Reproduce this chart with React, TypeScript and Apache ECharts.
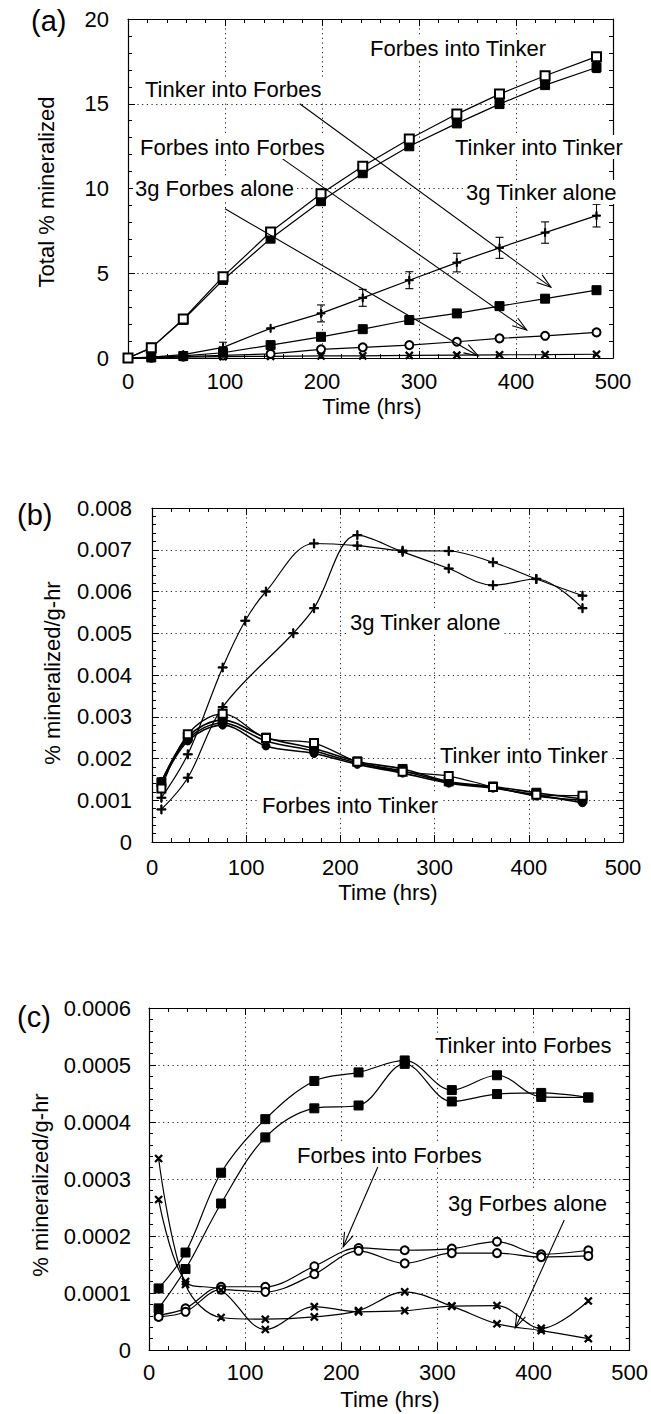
import React, { useEffect, useRef } from 'react';
import * as echarts from 'echarts';

const FONT = '"Liberation Sans", Arial, Helvetica, sans-serif';

// ---------- Panel (a): total % mineralized ----------
const timeA = [0, 24, 57, 98, 147, 199, 242, 290, 339, 383, 430, 483];
const forbesIntoTinkerA = [0, 0.6, 2.3, 4.8, 7.43, 9.69, 11.31, 12.92, 14.39, 15.57, 16.65, 17.78];
const tinkerIntoTinkerA = [0, 0.6, 2.25, 4.6, 7.04, 9.25, 10.9, 12.49, 13.84, 14.98, 16.1, 17.14];
const tinkerIntoTinkerErrA = [0, 0, 0, 0, 0, 0, 0, 0, 0, 0, 0, 0.3];
const tinkerAloneA = [0, 0.05, 0.2, 0.63, 1.75, 2.63, 3.55, 4.59, 5.63, 6.5, 7.4, 8.4];
const tinkerAloneErrA = [0, 0, 0, 0.3, 0, 0.5, 0.5, 0.5, 0.55, 0.62, 0.63, 0.67];
const tinkerIntoForbesA = [0, 0.03, 0.12, 0.31, 0.76, 1.25, 1.7, 2.24, 2.63, 3.06, 3.5, 4.0];
const forbesIntoForbesA = [0, 0.02, 0.08, 0.15, 0.24, 0.51, 0.63, 0.76, 0.96, 1.16, 1.31, 1.51];
const forbesAloneA = [0, 0.02, 0.05, 0.08, 0.1, 0.12, 0.13, 0.15, 0.17, 0.19, 0.2, 0.22];

// ---------- Panel (b): % mineralized / g-hr (Tinker soil) ----------
const timeB = [10, 38, 75, 121, 172, 218, 266, 315, 362, 408, 457];
const timeB1 = [10, 38, 75, 99, 121, 172, 218, 266, 315, 362, 408, 457];
const tinkerAloneB1 = [0.00106, 0.0021, 0.00418, 0.0053, 0.006, 0.00715, 0.0071, 0.00698, 0.00697, 0.0067, 0.0063, 0.0059];
const timeB2 = [10, 38, 75, 150, 172, 218, 266, 315, 362, 408, 457];
const tinkerAloneB2 = [0.00078, 0.00154, 0.00323, 0.005, 0.0056, 0.00735, 0.00695, 0.00655, 0.00615, 0.0063, 0.0056];
const forbesIntoTinkerB1 = [0.00128, 0.00258, 0.00307, 0.00249, 0.00237, 0.00192, 0.00168, 0.00158, 0.00132, 0.00113, 0.00111];
const forbesIntoTinkerB2 = [0.00143, 0.00252, 0.00292, 0.0025, 0.00224, 0.00193, 0.00175, 0.00145, 0.00133, 0.00118, 0.00103];
const tinkerIntoTinkerB1 = [0.00141, 0.00242, 0.0028, 0.0023, 0.00212, 0.00186, 0.00165, 0.00141, 0.00129, 0.00113, 0.00094];
const tinkerIntoTinkerB2 = [0.00145, 0.00247, 0.00285, 0.00242, 0.00218, 0.00189, 0.0017, 0.00143, 0.00131, 0.0011, 0.001];

// ---------- Panel (c): % mineralized / g-hr (Forbes soil) ----------
const timeC = [10, 38, 75, 121, 172, 218, 266, 315, 362, 408, 457];
const tinkerIntoForbesC1 = [0.000108, 0.000171, 0.000311, 0.000405, 0.000472, 0.000487, 0.000508, 0.000456, 0.000482, 0.000444, 0.000443];
const tinkerIntoForbesC2 = [0.000073, 0.000142, 0.000257, 0.000373, 0.000424, 0.000429, 0.000502, 0.000436, 0.000449, 0.000451, 0.000443];
const forbesIntoForbesC1 = [0.000061, 0.000073, 0.000111, 0.000111, 0.000147, 0.000179, 0.000175, 0.000178, 0.00019, 0.000168, 0.000175];
const forbesIntoForbesC2 = [0.000058, 0.000067, 0.000106, 0.000102, 0.000133, 0.000174, 0.000152, 0.00017, 0.00017, 0.000163, 0.000165];
const forbesAloneC1 = [0.000336, 0.000115, 0.000057, 0.000054, 0.000058, 0.000069, 0.000102, 0.000077, 0.000046, 0.000034, 0.00002];
const forbesAloneC2 = [0.000264, 0.00012, 0.000105, 0.000036, 0.000076, 0.000067, 0.000069, 0.000077, 0.000078, 0.000038, 0.000086];

// annotation arrows [x1, y1, x2(tip), y2(tip)] in data units
const arrowsA = [
  [177, 15.0, 436, 4.18],
  [159, 11.76, 411, 1.65],
  [100, 8.8, 361, 0.12],
];
const arrowsC = [
  [238, 0.000321, 202, 0.000181],
  [432, 0.000228, 381, 0.0000386],
];

const PLUS = 'path://M4.3,0 H5.7 V4.3 H10 V5.7 H5.7 V10 H4.3 V5.7 H0 V4.3 H4.3 Z';

const zip = (xs: number[], ys: number[]) => xs.map((x, i) => [x, ys[i]]);

function lineSeries(axis: number, xs: number[], ys: number[], symbol: string, opts: any = {}) {
  return {
    type: 'line',
    xAxisIndex: axis,
    yAxisIndex: axis,
    data: zip(xs, ys),
    symbol,
    symbolSize: opts.size ?? 8,
    symbolRotate: opts.rotate ?? 0,
    smooth: opts.smooth ?? false,
    showSymbol: true,
    lineStyle: { color: '#000', width: opts.width ?? 1.2 },
    itemStyle: { color: opts.fill ?? '#000', borderColor: '#000', borderWidth: 1 },
    emphasis: { disabled: true },
    silent: true,
    z: opts.z ?? 3,
  };
}

function arrowSeries(axis: number, arrows: number[][]) {
  return {
    type: 'custom',
    xAxisIndex: axis,
    yAxisIndex: axis,
    data: arrows,
    silent: true,
    z: 6,
    renderItem: (params: any, api: any) => {
      const p1 = api.coord([api.value(0), api.value(1)]);
      const p2 = api.coord([api.value(2), api.value(3)]);
      const ang = Math.atan2(p2[1] - p1[1], p2[0] - p1[0]);
      const L = 15;
      const a = 0.32;
      const h1 = [p2[0] - L * Math.cos(ang - a), p2[1] - L * Math.sin(ang - a)];
      const h2 = [p2[0] - L * Math.cos(ang + a), p2[1] - L * Math.sin(ang + a)];
      return {
        type: 'group',
        children: [
          { type: 'line', shape: { x1: p1[0], y1: p1[1], x2: p2[0], y2: p2[1] }, style: { stroke: '#000', lineWidth: 1.1 } },
          { type: 'polyline', shape: { points: [h1, p2, h2] }, style: { stroke: '#000', fill: null, lineWidth: 1.1 } },
        ],
      };
    },
  };
}

function errorSeries(axis: number, xs: number[], ys: number[], errs: number[]) {
  const data = xs.map((x, i) => [x, ys[i], errs[i]]).filter((d) => d[2] > 0);
  return {
    type: 'custom',
    xAxisIndex: axis,
    yAxisIndex: axis,
    data,
    silent: true,
    z: 4,
    renderItem: (params: any, api: any) => {
      const x = api.value(0), y = api.value(1), e = api.value(2);
      const lo = api.coord([x, y - e]);
      const hi = api.coord([x, y + e]);
      const w = 4;
      const st = { stroke: '#000', lineWidth: 1.1 };
      return {
        type: 'group',
        children: [
          { type: 'line', shape: { x1: lo[0], y1: lo[1], x2: hi[0], y2: hi[1] }, style: st },
          { type: 'line', shape: { x1: lo[0] - w, y1: lo[1], x2: lo[0] + w, y2: lo[1] }, style: st },
          { type: 'line', shape: { x1: hi[0] - w, y1: hi[1], x2: hi[0] + w, y2: hi[1] }, style: st },
        ],
      };
    },
  };
}

const grids = [
  { left: 128, top: 19, width: 485, height: 339 },
  { left: 152, top: 508, width: 471, height: 334 },
  { left: 149, top: 1008, width: 481, height: 342 },
];

const yConf = [
  { max: 20, interval: 5, fmt: (v: number) => String(v), margin: 19 },
  { max: 0.008, interval: 0.001, fmt: (v: number) => (v === 0 ? '0' : v.toFixed(3)), margin: 20 },
  { max: 0.0006, interval: 0.0001, fmt: (v: number) => (v === 0 ? '0' : v.toFixed(4)), margin: 18 },
];
const xMargins = [12, 14, 11];

const dotted = { color: '#222', type: [1.2, 3.5], width: 1 };

function buildAxes() {
  const xAxis: any[] = [];
  const yAxis: any[] = [];
  grids.forEach((g, i) => {
    const common = {
      type: 'value',
      gridIndex: i,
      axisLine: { show: true, onZero: false, lineStyle: { color: '#000', width: 1.2 } },
      axisTick: { show: true, inside: true, length: 7, lineStyle: { color: '#000', width: 1 } },
      minorTick: { show: true, splitNumber: 5, length: 4, lineStyle: { color: '#000', width: 1 } },
    };
    xAxis.push({
      ...common,
      position: 'bottom',
      min: 0,
      max: 500,
      interval: 100,
      axisLabel: { color: '#000', fontSize: 22, fontFamily: FONT, margin: xMargins[i] },
      splitLine: { show: true, lineStyle: dotted },
    });
    yAxis.push({
      ...common,
      position: 'left',
      min: 0,
      max: yConf[i].max,
      interval: yConf[i].interval,
      axisLabel: { color: '#000', fontSize: 22, fontFamily: FONT, margin: yConf[i].margin, formatter: yConf[i].fmt },
      splitLine: { show: true, lineStyle: dotted },
    });
  });
  grids.forEach((g, i) => {
    const common = {
      type: 'value',
      gridIndex: i,
      axisLine: { show: true, onZero: false, lineStyle: { color: '#000', width: 1.2 } },
      axisTick: { show: true, inside: true, length: 7, lineStyle: { color: '#000', width: 1 } },
      minorTick: { show: true, splitNumber: 5, length: 4, lineStyle: { color: '#000', width: 1 } },
      axisLabel: { show: false },
      splitLine: { show: false },
    };
    xAxis.push({ ...common, position: 'top', min: 0, max: 500, interval: 100 });
    yAxis.push({ ...common, position: 'right', min: 0, max: yConf[i].max, interval: yConf[i].interval });
  });
  return { xAxis, yAxis };
}

function txt(text: string, x: number, y: number, size = 22, bg = true) {
  return {
    type: 'text',
    x,
    y,
    z: 100,
    silent: true,
    style: {
      text,
      fill: '#000',
      font: `${size}px ${FONT}`,
      align: 'left',
      verticalAlign: 'middle',
      backgroundColor: bg ? '#fff' : 'transparent',
      padding: bg ? [1, 2] : 0,
    },
  };
}

function ctxt(text: string, x: number, y: number, rotate = 0) {
  return {
    type: 'text',
    x,
    y,
    rotation: rotate,
    z: 100,
    silent: true,
    style: { text, fill: '#000', font: `22px ${FONT}`, align: 'center', verticalAlign: 'middle' },
  };
}

function buildOption() {
  const { xAxis, yAxis } = buildAxes();
  const series: any[] = [
    // panel a
    lineSeries(0, timeA, forbesAloneA, PLUS, { rotate: 45, size: 9 }),
    lineSeries(0, timeA, forbesIntoForbesA, 'emptyCircle', { size: 8 }),
    lineSeries(0, timeA, tinkerIntoForbesA, 'rect', { size: 9 }),
    lineSeries(0, timeA, tinkerAloneA, PLUS, { size: 8 }),
    errorSeries(0, timeA, tinkerAloneA, tinkerAloneErrA),
    lineSeries(0, timeA, tinkerIntoTinkerA, 'rect', { size: 9 }),
    errorSeries(0, timeA, tinkerIntoTinkerA, tinkerIntoTinkerErrA),
    lineSeries(0, timeA, forbesIntoTinkerA, 'emptyRect', { size: 9, z: 4 }),
    arrowSeries(0, arrowsA),
    // panel b
    lineSeries(1, timeB1, tinkerAloneB1, PLUS, { smooth: 0.35, size: 9 }),
    lineSeries(1, timeB2, tinkerAloneB2, PLUS, { smooth: 0.35, size: 9 }),
    lineSeries(1, timeB, tinkerIntoTinkerB1, 'circle', { smooth: 0.35, size: 8, width: 1.6 }),
    lineSeries(1, timeB, tinkerIntoTinkerB2, 'circle', { smooth: 0.35, size: 8, width: 1.6 }),
    lineSeries(1, timeB, forbesIntoTinkerB2, 'rect', { smooth: 0.35, size: 9, width: 1.6 }),
    lineSeries(1, timeB, forbesIntoTinkerB1, 'emptyRect', { smooth: 0.35, size: 8, width: 1.2, z: 4 }),
    // panel c
    lineSeries(2, timeC, tinkerIntoForbesC1, 'rect', { smooth: 0.35, size: 9 }),
    lineSeries(2, timeC, tinkerIntoForbesC2, 'rect', { smooth: 0.35, size: 9 }),
    lineSeries(2, timeC, forbesIntoForbesC1, 'emptyCircle', { smooth: 0.35, size: 8 }),
    lineSeries(2, timeC, forbesIntoForbesC2, 'emptyCircle', { smooth: 0.35, size: 8 }),
    lineSeries(2, timeC, forbesAloneC1, PLUS, { smooth: 0.35, rotate: 45, size: 9 }),
    lineSeries(2, timeC, forbesAloneC2, PLUS, { smooth: 0.35, rotate: 45, size: 9 }),
    arrowSeries(2, arrowsC),
  ];

  const graphic: any[] = [
    txt('(a)', 31, 21, 29, false),
    txt('(b)', 17, 515, 29, false),
    txt('(c)', 17, 1017, 29, false),
    ctxt('Total % mineralized', 46, 192, Math.PI / 2),
    ctxt('% mineralized/g-hr', 52, 673, Math.PI / 2),
    ctxt('% mineralized/g-hr', 40, 1185, Math.PI / 2),
    ctxt('Time (hrs)', 372, 406),
    ctxt('Time (hrs)', 388, 892),
    ctxt('Time (hrs)', 390, 1399),
    // panel a labels
    txt('Forbes into Tinker', 368, 48),
    txt('Tinker into Forbes', 143, 89),
    txt('Forbes into Forbes', 138, 147),
    txt('3g Forbes alone', 133, 188),
    txt('Tinker into Tinker', 453, 147),
    txt('3g Tinker alone', 464, 192),
    // panel b labels
    txt('3g Tinker alone', 348, 622),
    txt('Tinker into Tinker', 438, 755),
    txt('Forbes into Tinker', 260, 805),
    // panel c labels
    txt('Tinker into Forbes', 433, 1045),
    txt('Forbes into Forbes', 295, 1155),
    txt('3g Forbes alone', 446, 1203),
  ];

  return {
    animation: false,
    backgroundColor: '#fff',
    textStyle: { fontFamily: FONT },
    grid: grids.map((g) => ({ ...g, containLabel: false })),
    xAxis,
    yAxis,
    series,
    graphic,
  };
}

export default function App() {
  const ref = useRef<HTMLDivElement>(null);
  useEffect(() => {
    if (!ref.current) return;
    const chart = echarts.init(ref.current, undefined, { renderer: 'svg' });
    chart.setOption(buildOption() as any);
    return () => chart.dispose();
  }, []);
  return (
    <div
      ref={ref}
      style={{ position: 'absolute', left: 0, top: 0, width: 651, height: 1414, background: '#fff' }}
    />
  );
}
